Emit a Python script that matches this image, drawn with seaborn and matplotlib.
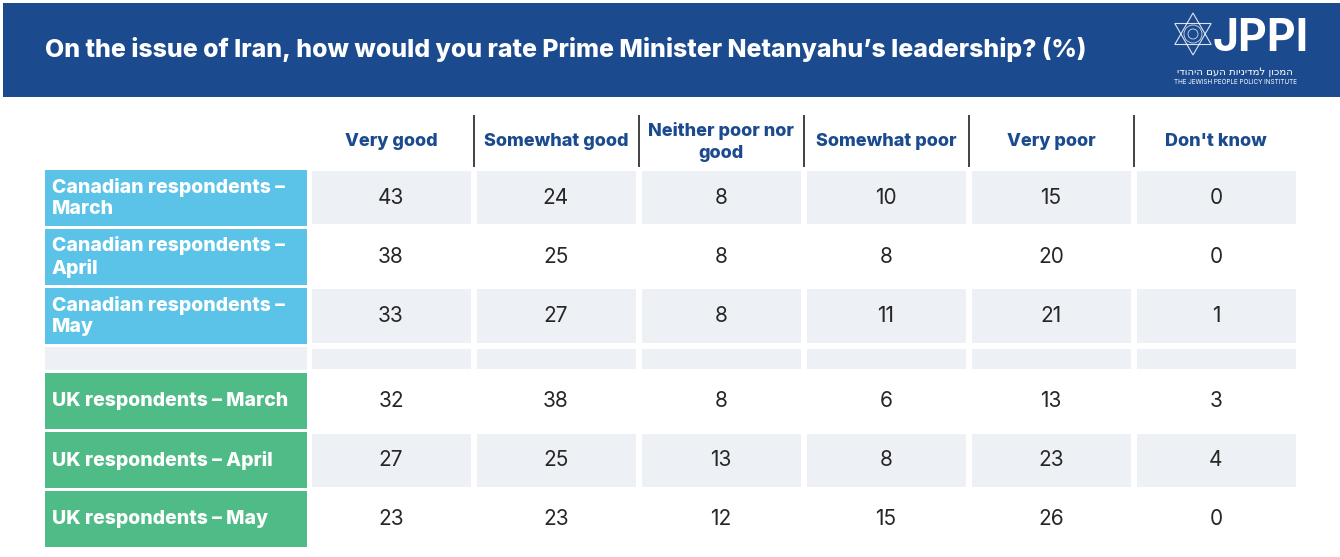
import numpy as np
import pandas as pd
import matplotlib
matplotlib.use("Agg")
import matplotlib.pyplot as plt
from matplotlib.patches import Rectangle, Polygon, Circle
from matplotlib.colors import ListedColormap
import seaborn as sns

# ---------------- data ----------------
title = "On the issue of Iran, how would you rate Prime Minister Netanyahu\u2019s leadership? (%)"
columns = ["Very good", "Somewhat good", "Neither poor nor\ngood", "Somewhat poor", "Very poor", "Don't know"]
canada_labels = ["Canadian respondents \u2013\nMarch", "Canadian respondents \u2013\nApril", "Canadian respondents \u2013\nMay"]
canada_values = [[43, 24, 8, 10, 15, 0],
                 [38, 25, 8, 8, 20, 0],
                 [33, 27, 8, 11, 21, 1]]
uk_labels = ["UK respondents \u2013 March", "UK respondents \u2013 April", "UK respondents \u2013 May"]
uk_values = [[32, 38, 8, 6, 13, 3],
             [27, 25, 13, 8, 23, 4],
             [23, 23, 12, 15, 26, 0]]
# ---------------------------------------

sns.set_theme(style="white")
plt.rcParams["font.family"] = ["Inter", "DejaVu Sans"]

W, H = 1340, 557
fig = plt.figure(figsize=(W / 100, H / 100), dpi=100)
fig.patch.set_facecolor("white")

NAVY = "#1b4a8f"
GREY = "#edf0f5"
BLUE = "#5bc3e8"
GREEN = "#4fbb86"
NUM = "#262626"
HEAVY = 800

# overlay in pixel coordinates
ov = fig.add_axes([0, 0, 1, 1], zorder=0)
ov.set_xlim(0, W)
ov.set_ylim(H, 0)
ov.axis("off")

# header band
ov.add_patch(Rectangle((3, 3), W - 3, 94, color=NAVY, lw=0))
ov.text(45, 50, title, color="white", fontsize=17.9, fontweight=HEAVY, va="center", ha="left")

# logo
cx, cy, r = 1193, 34, 21
ang_up = np.deg2rad([90, 210, 330])
ang_dn = np.deg2rad([270, 30, 150])
ov.add_patch(Polygon(np.c_[cx + r * np.cos(ang_up), cy - r * np.sin(ang_up)], closed=True,
                     fill=False, ec="white", lw=0.8, alpha=0.85))
ov.add_patch(Polygon(np.c_[cx + r * np.cos(ang_dn), cy - r * np.sin(ang_dn)], closed=True,
                     fill=False, ec="white", lw=0.8, alpha=0.85))
ov.add_patch(Circle((cx, cy), 9, fill=False, ec="white", lw=0.6, alpha=0.8))
ov.add_patch(Circle((cx, cy), 5, fill=False, ec="white", lw=0.6, alpha=0.8))
ov.text(1212, 39, "JPPI", color="white", fontsize=32, fontweight="bold", va="center", ha="left")
ov.text(1235, 72, "\u05d9\u05d3\u05d5\u05d4\u05d9\u05d4 \u05dd\u05e2\u05d4 \u05ea\u05d5\u05d9\u05e0\u05d9\u05d3\u05de\u05dc \u05df\u05d5\u05db\u05de\u05d4",
        color="white", fontsize=7.3, va="center", ha="center", family=["DejaVu Sans"])
ov.text(1235, 82, "THE JEWISH PEOPLE POLICY INSTITUTE", color="white", fontsize=4.6,
        va="center", ha="center")

# table geometry
x_lab0, x_lab1 = 45, 307
x_tab0, col_w = 308.5, 165.0
ncol = len(columns)
row_h = 59.0
can_top = 168.5
blank_top = can_top + 3 * row_h
uk_top = blank_top + 26


def fig_rect(x0, y0, w, h):
    return [x0 / W, 1 - (y0 + h) / H, w / W, h / H]


cmap = ListedColormap(["white", GREY])
annot_kws = dict(color=NUM, fontsize=15)


def block(values, pattern, top, labels, color, show_cols=False):
    ax = fig.add_axes(fig_rect(x_tab0, top, ncol * col_w, len(values) * row_h), zorder=2)
    df = pd.DataFrame(values, columns=columns)
    pat = np.array([[p] * ncol for p in pattern])
    sns.heatmap(pat, ax=ax, cmap=cmap, vmin=0, vmax=1, cbar=False, annot=df.values, fmt="d",
                annot_kws=annot_kws, linewidths=3, linecolor="white",
                xticklabels=columns if show_cols else False, yticklabels=False)
    if show_cols:
        ax.xaxis.tick_top()
        ax.tick_params(axis="x", length=0, pad=19.2)
        for t in ax.get_xticklabels():
            t.set_rotation(0)
            t.set_va("center")
            t.set_color(NAVY)
            t.set_fontweight(HEAVY)
            t.set_fontsize(13)
            t.set_linespacing(1.38)
    # row label cells
    for i, lab in enumerate(labels):
        y0 = top + i * row_h + 1.5
        ov.add_patch(Rectangle((x_lab0, y0), x_lab1 - x_lab0, row_h - 3, color=color, lw=0))
        ov.text(x_lab0 + 7, y0 + (row_h - 3) / 2, lab, color="white", fontsize=14, fontweight=HEAVY,
                va="center", ha="left", linespacing=1.25)
    return ax


block(canada_values, [1, 0, 1], can_top, canada_labels, BLUE, show_cols=True)

# blank separator row
axb = fig.add_axes(fig_rect(x_tab0, blank_top, ncol * col_w, 26), zorder=2)
sns.heatmap(np.ones((1, ncol)), ax=axb, cmap=cmap, vmin=0, vmax=1, cbar=False,
            linewidths=3, linecolor="white", xticklabels=False, yticklabels=False)
ov.add_patch(Rectangle((x_lab0, blank_top + 1.5), x_lab1 - x_lab0, 23, color=GREY, lw=0))

block(uk_values, [0, 1, 0], uk_top, uk_labels, GREEN)

# header separators
for k in range(1, ncol):
    xs = x_tab0 + k * col_w
    ov.plot([xs, xs], [115, 167], color="#333333", lw=1.3, solid_capstyle="butt")

fig.savefig("out.png", dpi=100, facecolor="white")
